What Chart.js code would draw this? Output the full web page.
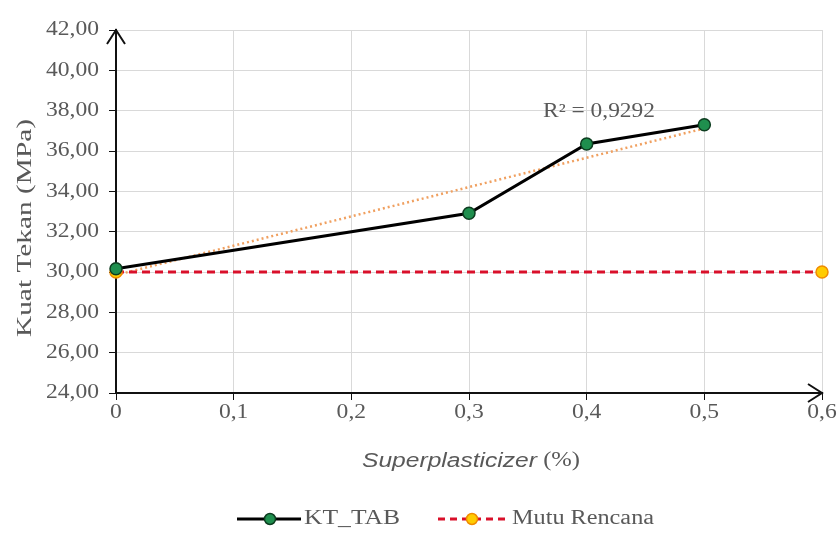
<!DOCTYPE html>
<html>
<head>
<meta charset="utf-8">
<script src="https://cdn.jsdelivr.net/npm/chart.js@4.4.1/dist/chart.umd.min.js"></script>
<style>
  html, body { margin: 0; padding: 0; background: #fff; }
  #wrap { width: 840px; height: 533px; }
</style>
</head>
<body>
<div id="wrap"><canvas id="myChart" width="840" height="533"></canvas></div>
<script>
// values
const sp = [0, 0.3, 0.4, 0.5];
const ktTab = [30.16, 32.91, 36.35, 37.30];
const mutuX = [0, 0.6];
const mutuY = [30, 30];
const trendX = [0, 0.5];
const trendY = [29.85, 37.12];
const r2Text = 'R² = 0,9292';

const gray = '#595959';
const serif = '"Liberation Serif", "Times New Roman", serif';
const sans = '"Liberation Sans", Arial, sans-serif';

function pts(xs, ys) {
  return xs.map((x, i) => ({ x: x, y: ys[i] }));
}

// text drawn a bit wider than the font, like the stretched original
function wideText(c, text, x, y, align, sx) {
  const w = c.measureText(text).width * sx;
  let x0 = x;
  if (align === 'center') x0 = x - w / 2;
  if (align === 'right') x0 = x - w;
  c.save();
  c.translate(x0, y);
  c.scale(sx, 1);
  c.textAlign = 'left';
  c.fillText(text, 0, 0);
  c.restore();
  return w;
}

function fitText(c, text, x, y, width) {
  const sx = width / c.measureText(text).width;
  wideText(c, text, x, y, 'center', sx);
}

const fmtY = v => v.toFixed(2).replace('.', ',');
const fmtX = v => v === 0 ? '0' : v.toFixed(1).replace('.', ',');

const extras = {
  id: 'extras',
  afterDraw(chart) {
    const c = chart.ctx;
    const a = chart.chartArea;
    const xs = chart.scales.x, ys = chart.scales.y;
    c.save();
    c.textBaseline = 'middle';

    // axis arrows
    c.strokeStyle = '#111';
    c.lineWidth = 2;
    c.beginPath();
    c.moveTo(a.left - 9, a.top + 14);
    c.lineTo(a.left, a.top);
    c.lineTo(a.left + 9, a.top + 14);
    c.moveTo(a.right - 14, a.bottom - 9);
    c.lineTo(a.right, a.bottom);
    c.lineTo(a.right - 14, a.bottom + 9);
    c.stroke();

    // tick labels
    c.fillStyle = gray;
    c.font = '20px ' + serif;
    ys.ticks.forEach(t => {
      wideText(c, fmtY(t.value), a.left - 17, ys.getPixelForValue(t.value), 'right', 1.18);
    });
    xs.ticks.forEach(t => {
      wideText(c, fmtX(t.value), xs.getPixelForValue(t.value), a.bottom + 20, 'center', 1.18);
    });

    // R² label
    c.font = '20px ' + serif;
    fitText(c, r2Text, 599, ys.getPixelForValue(37.95), 112);

    // y title
    c.save();
    c.translate(25, 228);
    c.rotate(-Math.PI / 2);
    c.font = '22px ' + serif;
    fitText(c, 'Kuat Tekan (MPa)', 0, 0, 218);
    c.restore();

    // x title with italic part
    const t1 = 'Superplasticizer', t2 = ' (%)';
    c.font = 'italic 20px ' + sans;
    const w1 = c.measureText(t1).width;
    c.font = '20px ' + serif;
    const w2 = c.measureText(t2).width;
    const sx = 218 / (w1 + w2);
    let x0 = 471 - 109;
    c.font = 'italic 20px ' + sans;
    wideText(c, t1, x0, 461, 'left', sx);
    c.font = '20px ' + serif;
    wideText(c, t2, x0 + w1 * sx, 461, 'left', sx);

    // legend
    const ly = 519;
    c.lineWidth = 3;
    c.strokeStyle = '#000';
    c.setLineDash([]);
    c.beginPath(); c.moveTo(237, ly); c.lineTo(301, ly); c.stroke();
    c.beginPath(); c.arc(270, ly, 5.5, 0, Math.PI * 2);
    c.fillStyle = '#1f8f4e'; c.fill();
    c.lineWidth = 1.5; c.strokeStyle = '#0d3d20'; c.stroke();
    c.fillStyle = gray;
    c.font = '20px ' + serif;
    fitText(c, 'KT_TAB', 352, ly, 96);

    c.lineWidth = 3;
    c.strokeStyle = '#d9102a';
    c.setLineDash([7, 5]);
    c.beginPath(); c.moveTo(438, ly); c.lineTo(507, ly); c.stroke();
    c.setLineDash([]);
    c.beginPath(); c.arc(472, ly, 5.5, 0, Math.PI * 2);
    c.fillStyle = '#ffcc00'; c.fill();
    c.lineWidth = 1.5; c.strokeStyle = '#f08c00'; c.stroke();
    c.fillStyle = gray;
    fitText(c, 'Mutu Rencana', 583, ly, 142);
    c.restore();
  }
};

const ctx = document.getElementById('myChart').getContext('2d');
const myChart = new Chart(ctx, {
  type: 'scatter',
  data: {
    datasets: [{
      label: 'Trend',
      data: pts(trendX, trendY),
      showLine: true,
      borderColor: '#f0a060',
      borderWidth: 2.5,
      borderDash: [2, 3],
      pointRadius: 0,
      order: 3
    }, {
      label: 'Mutu Rencana',
      data: pts(mutuX, mutuY),
      showLine: true,
      borderColor: '#d9102a',
      borderWidth: 3,
      borderDash: [8, 5],
      pointRadius: 6,
      pointBackgroundColor: '#ffcc00',
      pointBorderColor: '#f08c00',
      pointBorderWidth: 1.5,
      clip: false,
      order: 2
    }, {
      label: 'KT_TAB',
      data: pts(sp, ktTab),
      showLine: true,
      borderColor: '#000',
      borderWidth: 3,
      pointRadius: 6,
      pointBackgroundColor: '#1f8f4e',
      pointBorderColor: '#0d3d20',
      pointBorderWidth: 1.5,
      clip: false,
      order: 1
    }]
  },
  options: {
    responsive: false,
    animation: false,
    layout: { padding: { top: 30, right: 18, left: 0, bottom: 0 } },
    plugins: { legend: { display: false }, tooltip: { enabled: false } },
    scales: {
      x: {
        type: 'linear', min: 0, max: 0.6,
        afterFit(s) { s.height = 140; },
        ticks: { stepSize: 0.1, display: false },
        grid: { color: '#d9d9d9', tickColor: '#111', tickLength: 7, lineWidth: 1 },
        border: { color: '#111', width: 2 }
      },
      y: {
        min: 24, max: 42,
        afterFit(s) { s.width = 116; },
        ticks: { stepSize: 2, display: false },
        grid: { color: '#d9d9d9', tickColor: '#111', tickLength: 7, lineWidth: 1 },
        border: { color: '#111', width: 2 }
      }
    }
  },
  plugins: [extras]
});
</script>
</body>
</html>
